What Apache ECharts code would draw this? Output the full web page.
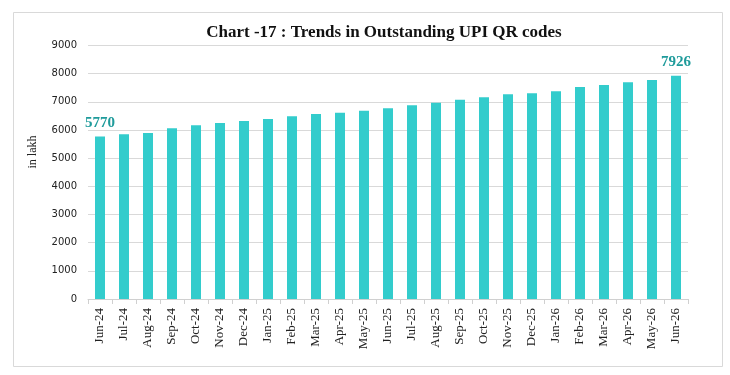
<!DOCTYPE html>
<html>
<head>
<meta charset="utf-8">
<script src="https://cdn.jsdelivr.net/npm/echarts@6/dist/echarts.min.js"></script>
<style>html,body{margin:0;padding:0;background:#fff}#c{width:730px;height:375px}</style>
</head>
<body>
<div id="c"></div>
<script>
var categories = ['Jun-24','Jul-24','Aug-24','Sep-24','Oct-24','Nov-24','Dec-24','Jan-25','Feb-25','Mar-25','Apr-25','May-25','Jun-25','Jul-25','Aug-25','Sep-25','Oct-25','Nov-25','Dec-25','Jan-26','Feb-26','Mar-26','Apr-26','May-26','Jun-26'];
var qrCodes = [5770,5847,5893,6060,6166,6248,6319,6390,6486,6567,6614,6684,6775,6876,6969,7075,7160,7267,7302,7373,7526,7597,7692,7774,7926];
var labelledIdx = [0, 24];
var yTicks = {min: 0, max: 9000, interval: 1000};

var chart = echarts.init(document.getElementById('c'), null, {renderer: 'canvas'});
var barData = qrCodes.map(function (v, i) {
  var item = {value: v};
  if (labelledIdx.indexOf(i) >= 0) {
    item.label = {show: true, position: 'top', distance: 6, color: '#1f9b9b',
      fontFamily: 'Liberation Serif', fontWeight: 'bold', fontSize: 15,
      formatter: function (p) { return String(p.value); }};
  }
  return item;
});
chart.setOption({
  animation: false,
  backgroundColor: '#fff',
  title: {
    text: 'Chart -17 : Trends in Outstanding UPI QR codes',
    left: 379, top: 19, textAlign: 'center',
    textStyle: {fontFamily: 'Liberation Serif', fontWeight: 'bold', fontSize: 17, color: '#111'}
  },
  graphic: [
    {type: 'rect', left: 11, top: 10, shape: {width: 709, height: 354},
     style: {fill: 'none', stroke: '#d9d9d9', lineWidth: 1}, z: -1},
    {type: 'text', x: 33, y: 152, rotation: Math.PI / 2, originX: 0, originY: 0,
     style: {text: 'in lakh', fontFamily: 'Liberation Serif', fontSize: 12, fill: '#222',
       textAlign: 'center', textVerticalAlign: 'middle'}}
  ],
  grid: {left: 88, right: 42, top: 45.5, bottom: 76, containLabel: false},
  xAxis: {
    type: 'category', data: categories,
    axisLine: {lineStyle: {color: '#d0d0d0'}},
    axisTick: {show: true, length: 5, lineStyle: {color: '#d0d0d0'}},
    axisLabel: {rotate: 90, interval: 0, margin: 9, fontFamily: 'Liberation Serif', fontSize: 13, color: '#222'}
  },
  yAxis: {
    type: 'value', min: yTicks.min, max: yTicks.max, interval: yTicks.interval,
    axisLine: {show: false}, axisTick: {show: false},
    splitLine: {lineStyle: {color: '#d9d9d9'}},
    axisLabel: {margin: 11, fontFamily: 'DejaVu Sans', fontSize: 10, color: '#222',
      formatter: function (v) { return String(v); }}
  },
  series: [{
    type: 'bar', data: barData, barWidth: 10,
    itemStyle: {color: '#33CCCC'}
  }]
});
</script>
</body>
</html>
